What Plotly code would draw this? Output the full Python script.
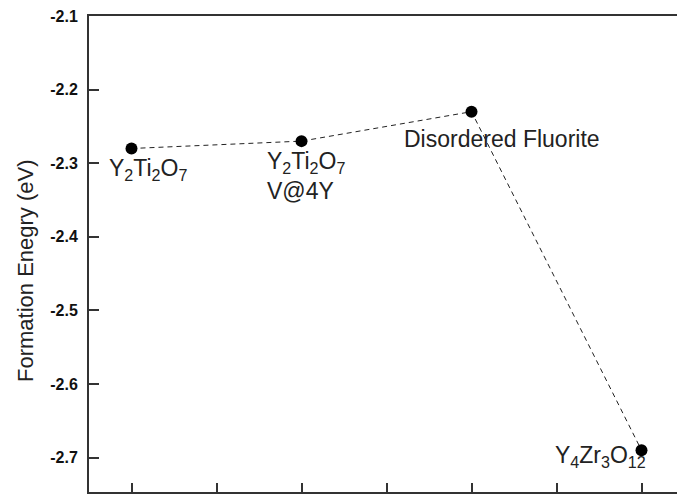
import plotly.graph_objects as go

# Data
x_pos = [1, 3, 5, 7]
energy = [-2.28, -2.27, -2.23, -2.69]
labels = ["Y<sub>2</sub>Ti<sub>2</sub>O<sub>7</sub>",
          "Y<sub>2</sub>Ti<sub>2</sub>O<sub>7</sub><br>V@4Y",
          "Disordered Fluorite",
          "Y<sub>4</sub>Zr<sub>3</sub>O<sub>12</sub>"]
y_ticks = [-2.1, -2.2, -2.3, -2.4, -2.5, -2.6, -2.7]
x_ticks = [1, 2, 3, 4, 5, 6, 7]

# label placement (pixel offsets from points)
label_shift = [(16, -21), (4, -35), (30, -27), (-41, -6)]
label_align = ["center", "left", "center", "center"]

fig = go.Figure()
fig.add_trace(go.Scatter(
    x=x_pos, y=energy, mode="lines+markers",
    line=dict(color="#222222", width=1, dash="5px,4px"),
    marker=dict(color="black", size=12),
    showlegend=False, cliponaxis=False,
))

for xi, yi, t, (dx, dy), al in zip(x_pos, energy, labels, label_shift, label_align):
    fig.add_annotation(x=xi, y=yi, text=t, showarrow=False, xshift=dx, yshift=dy,
                       align=al, font=dict(family="Liberation Sans, Arial", size=23, color="#222222"))

fig.add_annotation(xref="paper", yref="paper", x=(25 - 89) / 588, y=(492 - 271) / 476,
                   text="Formation Enegry (eV)", textangle=-90, showarrow=False,
                   xanchor="center", yanchor="middle",
                   font=dict(family="Liberation Sans, Arial", size=22, color="#222222"))

fig.update_layout(
    width=677, height=494,
    margin=dict(l=89, r=0, t=16, b=2),
    plot_bgcolor="white", paper_bgcolor="white",
    xaxis=dict(range=[0.5, 0.5 + 588 / 85], tickvals=x_ticks, showticklabels=False,
               ticks="inside", ticklen=9, tickwidth=1.5, tickcolor="#333333",
               showline=True, linecolor="#333333", linewidth=2, mirror=True,
               showgrid=False, zeroline=False),
    yaxis=dict(range=[-2.7467, -2.1], tickvals=y_ticks, ticktext=[f"{v:.1f}" for v in y_ticks],
               ticks="inside", ticklen=10, tickwidth=1.5, tickcolor="#333333",
               showline=True, linecolor="#333333", linewidth=2, mirror=False,
               showgrid=False, zeroline=False, ticklabelstandoff=6,
               tickfont=dict(family="Liberation Sans, Arial", size=16, color="#111111", weight="bold")),
)

fig.write_html("out.html")
